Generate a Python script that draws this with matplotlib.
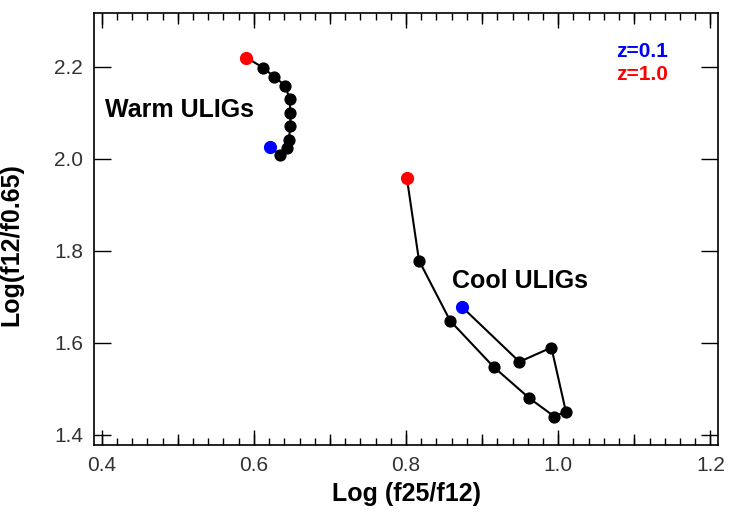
import matplotlib
matplotlib.use("Agg")
import matplotlib.pyplot as plt
from matplotlib.ticker import MultipleLocator, FormatStrFormatter, NullFormatter

plt.rcParams["font.family"] = ["Liberation Sans", "DejaVu Sans"]

# warm ULIG track: z=1.0 (red) -> z=0.1 (blue)
warm_x = [0.590, 0.612, 0.627, 0.641, 0.647, 0.648, 0.648, 0.646, 0.643, 0.635, 0.621]
warm_y = [2.220, 2.198, 2.178, 2.159, 2.130, 2.100, 2.072, 2.041, 2.024, 2.009, 2.026]

# cool ULIG track: z=1.0 (red) -> z=0.1 (blue)
cool_x = [0.801, 0.817, 0.858, 0.915, 0.962, 0.995, 1.010, 0.991, 0.949, 0.873]
cool_y = [1.959, 1.779, 1.648, 1.548, 1.480, 1.440, 1.451, 1.590, 1.559, 1.679]

fig = plt.figure(figsize=(7.29, 5.14), dpi=100)
ax = fig.add_axes([0.129, 0.134, 0.856, 0.841])

for xs, ys in [(warm_x, warm_y), (cool_x, cool_y)]:
    ax.plot(xs, ys, color="black", lw=1.5, zorder=2)
    ax.plot(xs[1:-1], ys[1:-1], "o", color="black", ms=7.8, zorder=3)
    ax.plot(xs[0], ys[0], "o", color="red", ms=8.5, zorder=4)
    ax.plot(xs[-1], ys[-1], "o", color="blue", ms=8.5, zorder=4)

ax.text(0.405, 2.107, "Warm ULIGs", fontsize=18, fontweight="bold", va="center", ha="left")
ax.text(0.861, 1.735, "Cool ULIGs", fontsize=18, fontweight="bold", va="center", ha="left")
ax.text(1.076, 2.233, "z=0.1", fontsize=15, fontweight="bold", color="blue", va="center")
ax.text(1.076, 2.182, "z=1.0", fontsize=15, fontweight="bold", color="red", va="center")

ax.set_xlim(0.39, 1.21)
ax.set_ylim(1.378, 2.317)
ax.xaxis.set_major_locator(MultipleLocator(0.2))
ax.xaxis.set_minor_locator(MultipleLocator(0.02))
ax.yaxis.set_major_locator(MultipleLocator(0.2))
ax.xaxis.set_major_formatter(FormatStrFormatter("%.1f"))
ax.yaxis.set_major_formatter(FormatStrFormatter("%.1f"))

ax.tick_params(axis="both", which="both", direction="in", top=True, right=True,
               labelsize=15, labelcolor="#333333", width=1.0)
ax.tick_params(axis="x", which="major", length=11, pad=8)
ax.tick_params(axis="x", which="minor", length=5)
ax.tick_params(axis="y", which="major", length=12, pad=8)
for s in ax.spines.values():
    s.set_linewidth(1.2)

# medium ticks every 0.1 on bottom and top
for loc in ["bottom", "top"]:
    sec = ax.secondary_xaxis(loc)
    sec.xaxis.set_major_locator(MultipleLocator(0.1))
    sec.xaxis.set_major_formatter(NullFormatter())
    sec.tick_params(direction="in", length=8, width=1.0)
    sec.spines[loc].set_visible(False)

ax.set_xlabel("Log (f25/f12)", fontsize=18, fontweight="bold", labelpad=5)
ax.set_ylabel("Log(f12/f0.65)", fontsize=18, fontweight="bold")
ax.yaxis.set_label_coords(-0.114, 0.463)

fig.savefig("out.png", dpi=100)
